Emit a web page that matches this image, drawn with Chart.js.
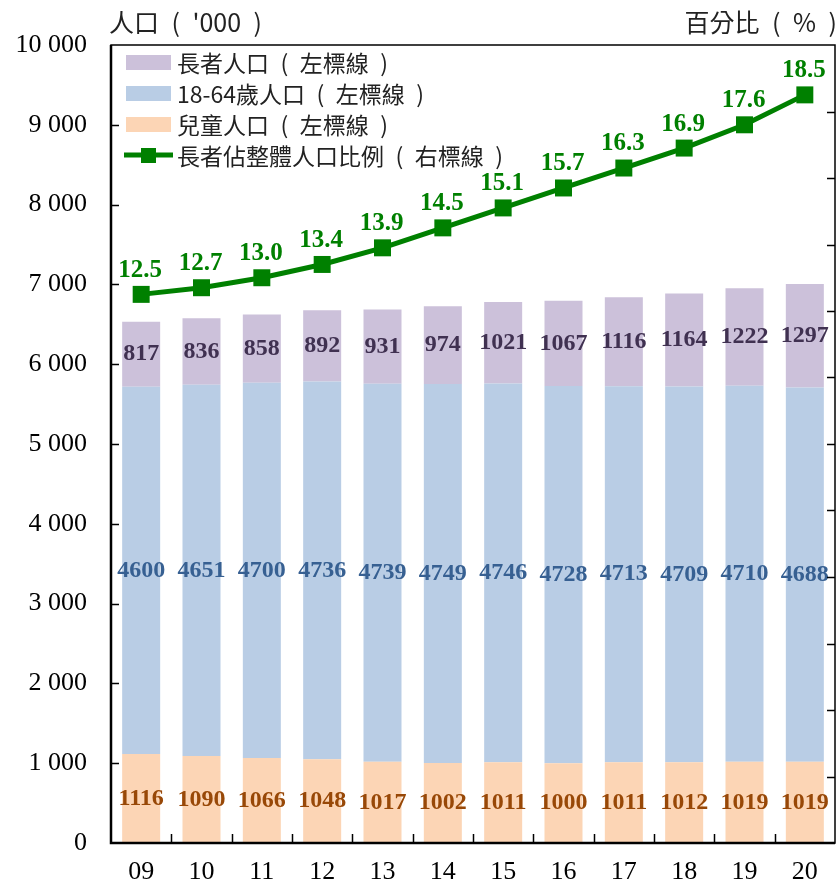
<!DOCTYPE html>
<html>
<head>
<meta charset="utf-8">
<script src="https://cdn.jsdelivr.net/npm/chart.js@4"></script>
<style>
  body { margin: 0; background: #fff; }
  #wrap { width: 839px; height: 887px; }
</style>
</head>
<body>
<div id="wrap"><canvas id="popChart" width="839" height="887"></canvas></div>
<script>
// data
const years = ['09', '10', '11', '12', '13', '14', '15', '16', '17', '18', '19', '20'];
const children = [1116, 1090, 1066, 1048, 1017, 1002, 1011, 1000, 1011, 1012, 1019, 1019];
const working = [4600, 4651, 4700, 4736, 4739, 4749, 4746, 4728, 4713, 4709, 4710, 4688];
const elderly = [817, 836, 858, 892, 931, 974, 1021, 1067, 1116, 1164, 1222, 1297];
const elderlyShare = [12.5, 12.7, 13.0, 13.4, 13.9, 14.5, 15.1, 15.7, 16.3, 16.9, 17.6, 18.5];

const SP = '\u2002';
const legendNames = [
    '長者人口' + SP + '(' + SP + '左標線' + SP + ')',
    '18-64歲人口' + SP + '(' + SP + '左標線' + SP + ')',
    '兒童人口' + SP + '(' + SP + '左標線' + SP + ')',
    '長者佔整體人口比例' + SP + '(' + SP + '右標線' + SP + ')'
];

const SERIF = '"Liberation Serif", "Times New Roman", serif';
const SANS = '"Noto Sans CJK TC", "Noto Sans", sans-serif';

function spaced(v) {
    return String(v).replace(/\B(?=(\d{3})+(?!\d))/g, ' ');
}

// value labels, frame, ticks, legend and axis titles
const decorPlugin = {
    id: 'decor',
    afterDatasetsDraw(chart) {
        const ctx = chart.ctx;
        ctx.save();
        ctx.textAlign = 'center';
        ctx.textBaseline = 'middle';
        chart.data.datasets.forEach((ds, i) => {
            const meta = chart.getDatasetMeta(i);
            meta.data.forEach((el, j) => {
                const v = ds.data[j];
                if (ds.type === 'line') {
                    ctx.font = 'bold 25px ' + SERIF;
                    ctx.fillStyle = ds.labelColor;
                    ctx.fillText(v.toFixed(1), el.x - 1, el.y - 24);
                } else {
                    ctx.font = 'bold 24px ' + SERIF;
                    ctx.fillStyle = ds.labelColor;
                    ctx.fillText(String(v), el.x, (el.y + el.base) / 2);
                }
            });
        });
        ctx.restore();
    },
    afterDraw(chart) {
        const ctx = chart.ctx;
        const area = chart.chartArea;
        const x = chart.scales.x, y = chart.scales.y, y1 = chart.scales.y1;
        ctx.save();

        // frame
        ctx.strokeStyle = '#000';
        ctx.lineWidth = 1.5;
        ctx.strokeRect(area.left, area.top, area.right - area.left, area.bottom - area.top);
        ctx.lineWidth = 2.5;
        ctx.beginPath();
        ctx.moveTo(area.left, area.top);
        ctx.lineTo(area.left, area.bottom);
        ctx.lineTo(area.right, area.bottom);
        ctx.stroke();

        // inward ticks
        ctx.lineWidth = 1.5;
        ctx.beginPath();
        for (let v = 1000; v < 10000; v += 1000) {
            const py = Math.round(y.getPixelForValue(v)) + 0.5;
            ctx.moveTo(area.left, py);
            ctx.lineTo(area.left + 8, py);
        }
        for (let v = -2; v < 20; v += 2) {
            const py = Math.round(y1.getPixelForValue(v)) + 0.5;
            ctx.moveTo(area.right, py);
            ctx.lineTo(area.right - 8, py);
        }
        for (let i = 1; i < years.length; i++) {
            const px = Math.round((x.getPixelForValue(i - 1) + x.getPixelForValue(i)) / 2) + 0.5;
            ctx.moveTo(px, area.bottom);
            ctx.lineTo(px, area.bottom - 9);
        }
        ctx.stroke();

        // axis titles
        ctx.fillStyle = '#222';
        ctx.font = '25px ' + SANS;
        ctx.textBaseline = 'middle';
        ctx.textAlign = 'left';
        ctx.fillText('人口' + SP + '(' + SP + "'000" + SP + ')', 109, 22);
        ctx.textAlign = 'right';
        ctx.fillText('百分比' + SP + '(' + SP + '%' + SP + ')', 837, 22);

        // legend
        const ds = chart.data.datasets;
        const rows = [ds[2], ds[1], ds[0], ds[3]];
        ctx.textAlign = 'left';
        ctx.font = '23px ' + SANS;
        rows.forEach((d, i) => {
            const cy = 62 + i * 31;
            if (d.type === 'line') {
                ctx.strokeStyle = d.borderColor;
                ctx.lineWidth = 5;
                ctx.beginPath();
                ctx.moveTo(124, cy);
                ctx.lineTo(173, cy);
                ctx.stroke();
                ctx.fillStyle = d.borderColor;
                ctx.fillRect(141, cy - 7, 15, 15);
            } else {
                ctx.fillStyle = d.backgroundColor;
                ctx.fillRect(126, cy - 7, 45, 15);
            }
            ctx.fillStyle = '#222';
            ctx.fillText(d.legendName, 177, cy + 1);
        });
        ctx.restore();
    }
};

const ctx = document.getElementById('popChart').getContext('2d');
const popChart = new Chart(ctx, {
    type: 'bar',
    data: {
        labels: years,
        datasets: [
            {
                label: 'children',
                legendName: legendNames[2],
                data: children,
                backgroundColor: '#fcd5b5',
                labelColor: '#984807',
                yAxisID: 'y',
                order: 1
            },
            {
                label: 'working',
                legendName: legendNames[1],
                data: working,
                backgroundColor: '#b9cde5',
                labelColor: '#376092',
                yAxisID: 'y',
                order: 1
            },
            {
                label: 'elderly',
                legendName: legendNames[0],
                data: elderly,
                backgroundColor: '#ccc1da',
                labelColor: '#403151',
                yAxisID: 'y',
                order: 1
            },
            {
                type: 'line',
                label: 'share',
                legendName: legendNames[3],
                data: elderlyShare,
                borderColor: '#008000',
                backgroundColor: '#008000',
                labelColor: '#008000',
                borderWidth: 5,
                pointStyle: 'rect',
                pointRadius: 12,
                pointHoverRadius: 12,
                pointBorderWidth: 0,
                tension: 0,
                yAxisID: 'y1',
                order: 0
            }
        ]
    },
    options: {
        responsive: false,
        animation: false,
        layout: { autoPadding: false, padding: { top: 45, right: 4, left: 0, bottom: 0 } },
        datasets: {
            bar: { barPercentage: 0.63, categoryPercentage: 1, borderWidth: 0 }
        },
        plugins: {
            legend: { display: false },
            tooltip: { enabled: false }
        },
        scales: {
            x: {
                stacked: true,
                grid: { display: false, drawTicks: false },
                border: { display: false },
                ticks: { font: { family: SERIF, size: 26 }, color: '#000', padding: 14 },
                afterFit(s) {
                    s.height = 44;
                    s.paddingLeft = 0;
                    s.paddingRight = 0;
                }
            },
            y: {
                stacked: true,
                min: 0,
                max: 10000,
                grid: { display: false, drawTicks: false },
                border: { display: false },
                ticks: {
                    stepSize: 1000,
                    font: { family: SERIF, size: 26 },
                    color: '#000',
                    padding: 24,
                    callback: v => spaced(v)
                },
                afterFit(s) {
                    s.width = 111;
                    s.paddingTop = 0;
                    s.paddingBottom = 0;
                }
            },
            y1: {
                display: false,
                position: 'right',
                min: -4,
                max: 20
            }
        }
    },
    plugins: [decorPlugin]
});
</script>
</body>
</html>
